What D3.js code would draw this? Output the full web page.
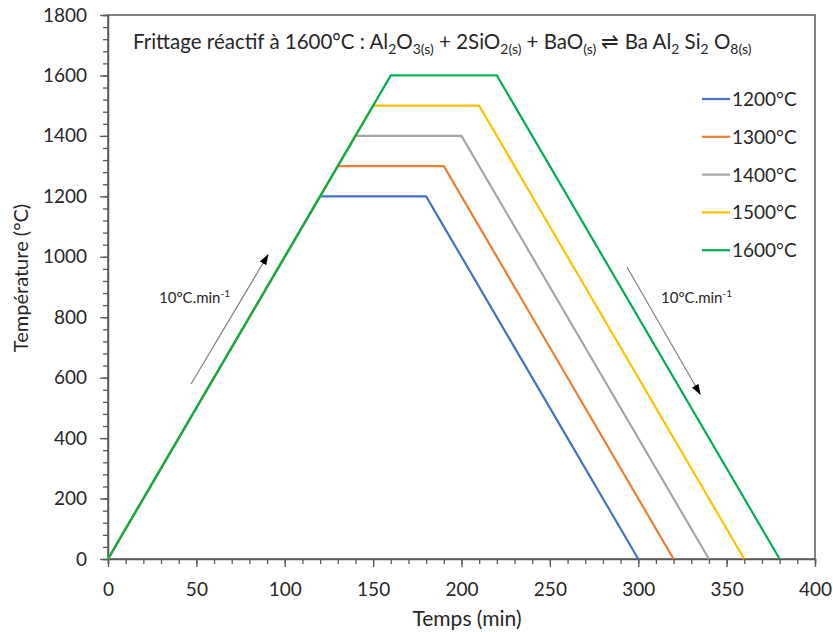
<!DOCTYPE html>
<html><head><meta charset="utf-8">
<script src="https://cdn.jsdelivr.net/npm/d3@7"></script>
<style>body{margin:0;background:#fff}svg{display:block}text{font-family:Lato,"Open Sans",sans-serif;fill:#262626}</style>
</head><body>
<script>
const seriesNames = ["1200°C","1300°C","1400°C","1500°C","1600°C"];
const colors = ["#4472C4","#ED7D31","#A5A5A5","#FFC000","#00B050"];
const times = [
  [0,120,180,300],
  [0,130,190,320],
  [0,140,200,340],
  [0,150,210,360],
  [0,160,220,380]
];
const temps = [
  [0,1200,1200,0],
  [0,1300,1300,0],
  [0,1400,1400,0],
  [0,1500,1500,0],
  [0,1600,1600,0]
];
const xTicks = [0,50,100,150,200,250,300,350,400];
const yTicks = [0,200,400,600,800,1000,1200,1400,1600,1800];
const arrowUp = [[47,579],[90.5,1006]];
const arrowDown = [[293.6,966],[335,546]];

const W=833,H=632;
const svg=d3.select("body").append("svg").attr("width",W).attr("height",H);
const x=d3.scaleLinear().domain([0,400]).range([108,815]);
const y=d3.scaleLinear().domain([0,1800]).range([559,15]);
const axisColor="#595959";

// frame
svg.append("rect").attr("x",108).attr("y",15).attr("width",707).attr("height",544)
  .attr("fill","none").attr("stroke",axisColor).attr("stroke-width",1.5);

// x axis
const xa=svg.append("g").attr("transform","translate(0,559)");
xa.call(d3.axisBottom(x).tickValues(d3.range(0,401,10)).tickSize(5).tickFormat(""));
xa.selectAll(".tick line").attr("stroke",axisColor).attr("stroke-width",1.3);
xa.select(".domain").attr("stroke",axisColor).attr("stroke-width",1.5);
const xa2=svg.append("g").attr("transform","translate(0,559)").call(d3.axisBottom(x).tickValues(xTicks).tickSize(8).tickPadding(16).tickFormat(d3.format("d")));
xa2.select(".domain").remove();
xa2.selectAll(".tick line").attr("stroke",axisColor).attr("stroke-width",1.3);
xa2.selectAll(".tick text").style("font-size","19px").attr("fill","#262626").style("font-family","Lato,sans-serif");

// y axis
const ya=svg.append("g").attr("transform","translate(108,0)");
ya.call(d3.axisLeft(y).tickValues(d3.range(0,1801,40)).tickSize(5).tickFormat(""));
ya.selectAll(".tick line").attr("stroke",axisColor).attr("stroke-width",1.3);
ya.select(".domain").attr("stroke",axisColor).attr("stroke-width",1.5);
const ya2=svg.append("g").attr("transform","translate(108,0)").call(d3.axisLeft(y).tickValues(yTicks).tickSize(8).tickPadding(13).tickFormat(d3.format("d")));
ya2.select(".domain").remove();
ya2.selectAll(".tick line").attr("stroke",axisColor).attr("stroke-width",1.3);
ya2.selectAll(".tick text").style("font-size","19px").attr("fill","#262626").style("font-family","Lato,sans-serif");

// lines
const line=d3.line().x(d=>x(d[0])).y(d=>y(d[1]));
seriesNames.forEach((n,i)=>{
  const pts=times[i].map((t,j)=>[t,temps[i][j]]);
  svg.append("path").datum(pts).attr("d",line).attr("fill","none")
    .attr("stroke",colors[i]).attr("stroke-width",2.2);
});

// legend
seriesNames.forEach((n,i)=>{
  const yy=99+i*37.8;
  svg.append("line").attr("x1",702).attr("x2",730).attr("y1",yy).attr("y2",yy)
    .attr("stroke",colors[i]).attr("stroke-width",2.2);
  svg.append("text").attr("x",732).attr("y",yy+7).style("font-size","19px").text(n);
});

// arrows
const defs=svg.append("defs");
defs.append("marker").attr("id","ah").attr("viewBox","0 0 10 10").attr("refX",9).attr("refY",5)
  .attr("markerWidth",9).attr("markerHeight",9).attr("orient","auto")
  .append("path").attr("d","M0,1.5L10,5L0,8.5Z").attr("fill","#000");
[arrowUp,arrowDown].forEach(a=>{
  svg.append("line").attr("x1",x(a[0][0])).attr("y1",y(a[0][1])).attr("x2",x(a[1][0])).attr("y2",y(a[1][1]))
    .attr("stroke","#7f7f7f").attr("stroke-width",1.2).attr("marker-end","url(#ah)");
});
function rateLabel(px,py){
  const t=svg.append("text").attr("x",px).attr("y",py).style("font-size","15px");
  t.append("tspan").text("10°C.min");
  t.append("tspan").attr("dy",-6).style("font-size","10px").text("-1");
}
rateLabel(159,303);
rateLabel(661,303);

// title
const title=svg.append("text").attr("x",133).attr("y",54).style("font-size","20.5px");
const parts=[["Frittage réactif à 1600°C : Al","2"],["O","3(s)"],[" + 2SiO","2(s)"],[" + BaO","(s)"],[" ⇌ Ba Al","2"],[" Si","2"],[" O","8(s)"]];
parts.forEach(p=>{
  title.append("tspan").attr("dy",title.selectAll("tspan").size()?-5:0).text(p[0]);
  title.append("tspan").attr("dy",5).style("font-size","14px").text(p[1]);
});

// axis titles
svg.append("text").attr("transform","translate(28,278) rotate(-90)").attr("text-anchor","middle")
  .style("font-size","20px").text("Température (°C)");
svg.append("text").attr("x",467).attr("y",626).attr("text-anchor","middle")
  .style("font-size","21px").text("Temps (min)");
</script>
</body></html>
